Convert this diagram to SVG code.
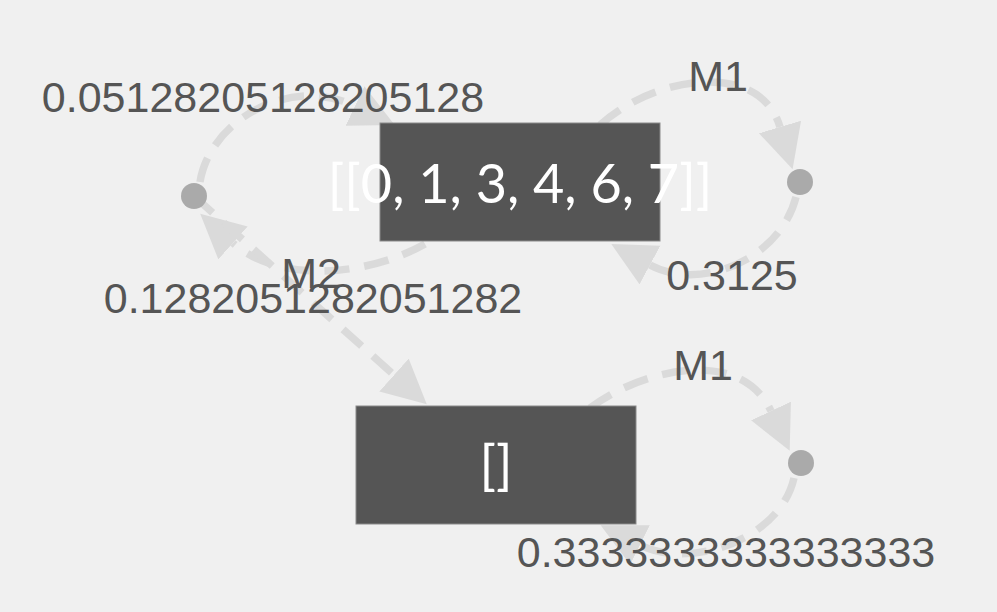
<svg xmlns="http://www.w3.org/2000/svg" width="997" height="612" viewBox="0 0 997 612">
<defs>
<style>
.edge{fill:none;stroke:#dadada;stroke-width:7.5;stroke-dasharray:25 15;marker-end:url(#arr)}
.box{fill:#555555;stroke:#8a8a8a;stroke-width:1}
.dot{fill:#aaaaaa}
.lbl{font-family:"Liberation Sans",Arial,sans-serif;font-size:43px;fill:#555555;text-anchor:middle}
.ntx{font-family:Lato,"Open Sans",sans-serif;font-size:54px;fill:#ffffff;text-anchor:middle}
</style>
<marker id="arr" markerUnits="userSpaceOnUse" markerWidth="46" markerHeight="46" refX="0" refY="22" orient="auto" viewBox="0 0 46 46">
<path d="M0,0 L44,22 L0,44 Z" fill="#dadada"/>
</marker>
</defs>
<rect x="0" y="0" width="997" height="612" fill="#f0f0f0"/>
<g id="edges">
<path class="edge" d="M425,244 C370,275 280,285 233,243"/>
<path class="edge" d="M200,182 C210,120 290,75 355,106"/>
<path class="edge" d="M194,196 L394,375"/>
<path class="edge" d="M600,125 C655,75 760,60 780,127"/>
<path class="edge" d="M796,197 C780,260 700,292 650,265"/>
<path class="edge" d="M590,408 C640,370 740,345 771,411"/>
<path class="edge" d="M794,478 C780,540 690,570 640,545"/>
</g>
<g id="nodeA">
<rect class="box" x="380" y="123" width="280" height="118"/>
<text class="ntx" x="520" y="203">[[0, 1, 3, 4, 6, 7]]</text>
</g>
<g id="nodeB">
<rect class="box" x="356" y="406" width="280" height="118"/>
<text class="ntx" x="496" y="484">[]</text>
</g>
<g id="actL"><circle class="dot" cx="194" cy="196" r="13"/></g>
<g id="actR1"><circle class="dot" cx="800" cy="182" r="13"/></g>
<g id="actR2"><circle class="dot" cx="801" cy="463" r="13"/></g>
<g id="labels">
<text class="lbl" x="263" y="112">0.05128205128205128</text>
<text class="lbl" x="313" y="313">0.1282051282051282</text>
<text class="lbl" x="311" y="288">M2</text>
<text class="lbl" x="718" y="91">M1</text>
<text class="lbl" x="732" y="290">0.3125</text>
<text class="lbl" x="703" y="380">M1</text>
<text class="lbl" x="726" y="567">0.3333333333333333</text>
</g>
</svg>
